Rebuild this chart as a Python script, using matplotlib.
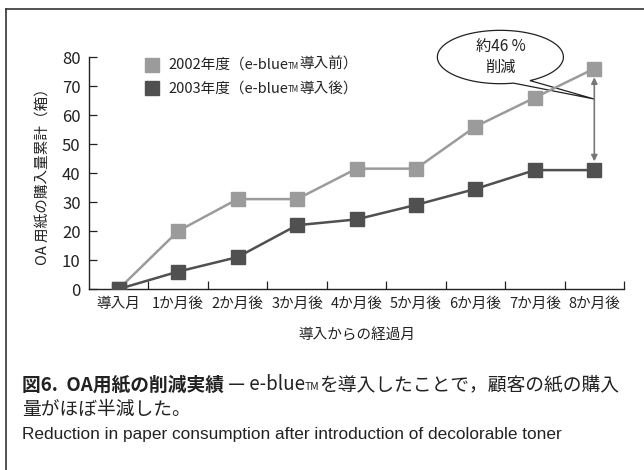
import numpy as np
import matplotlib
matplotlib.use("Agg")
import matplotlib.pyplot as plt
from matplotlib.patches import Polygon
from matplotlib.lines import Line2D
from matplotlib.offsetbox import TextArea, HPacker, AnnotationBbox

plt.rcParams['font.family'] = ['Noto Sans CJK JP', 'DejaVu Sans']

months = ["導入月", "1か月後", "2か月後", "3か月後", "4か月後",
          "5か月後", "6か月後", "7か月後", "8か月後"]
boxes_2002 = [0, 20, 31, 31, 41.5, 41.5, 56, 66, 76]
boxes_2003 = [0, 6, 11, 22, 24, 29, 34.5, 41, 41]
yticks = [0, 10, 20, 30, 40, 50, 60, 70, 80]

LIGHT = "#9b9b9b"
DARK = "#505050"
INK = "#222222"
JP = ['Noto Sans CJK JP', 'DejaVu Sans']

fig = plt.figure(figsize=(6.44, 4.70), dpi=100)
ax = fig.add_axes([0.1382, 0.3851, 0.8308, 0.4936])

x = np.arange(len(months))
ax.plot(x, boxes_2002, color=LIGHT, lw=1.8, marker="s", ms=10,
        mec=LIGHT, mfc=LIGHT, zorder=3)
ax.plot(x, boxes_2003, color=DARK, lw=1.8, marker="s", ms=10,
        mec=DARK, mfc=DARK, zorder=4)

ax.set_xlim(-0.5, len(months) - 0.5)
ax.set_ylim(0, 80)
ax.set_yticks(yticks)
ax.set_xticks(x)
ax.set_xticklabels(months, fontsize=10.5, color=INK)
ax.set_xticks(np.arange(len(months)) + 0.5, minor=True)
ax.tick_params(axis="x", which="major", length=0, pad=6)
ax.tick_params(axis="x", which="minor", direction="in", length=6, width=0.9, color=INK)
ax.tick_params(axis="y", direction="in", length=6, width=0.9, color=INK,
               labelsize=12, labelcolor=INK, pad=6)
for side in ("top", "right"):
    ax.spines[side].set_visible(False)
for side in ("left", "bottom"):
    ax.spines[side].set_linewidth(1.0)
    ax.spines[side].set_color(INK)

ax.set_xlabel("導入からの経過月", fontsize=10.5, color=INK, labelpad=12)
ax.set_ylabel("OA 用紙の購入量累計（箱）", fontsize=10.5, color=INK, labelpad=9)


def label_box(main, tail, size, weight="normal"):
    parts = [TextArea(main, textprops=dict(fontsize=size, color=INK, family=JP, weight=weight)),
             TextArea("TM", textprops=dict(fontsize=size * 0.55, color=INK, family=JP)),
             TextArea(tail, textprops=dict(fontsize=size, color=INK, family=JP))]
    return HPacker(children=parts, align="baseline", pad=0, sep=0)


# legend: square swatches with text rows
for yy, col, yr, suffix in [(0.966, LIGHT, "2002年度（e-blue", "導入前）"),
                            (0.866, DARK, "2003年度（e-blue", "導入後）")]:
    ax.plot([0.118], [yy], marker="s", ms=10, color=col,
            transform=ax.transAxes, clip_on=False)
    ab = AnnotationBbox(label_box(yr, suffix, 10.5), (0.148, yy),
                        xycoords=ax.transAxes, box_alignment=(0, 0.5),
                        frameon=False, pad=0)
    ax.add_artist(ab)

# double arrow between the two final values
last = len(months) - 1
ax.annotate("", xy=(last, boxes_2003[-1] + 3), xytext=(last, boxes_2002[-1] - 3),
            arrowprops=dict(arrowstyle="<|-|>", color="#777777", lw=1.2,
                            mutation_scale=9, shrinkA=0, shrinkB=0), zorder=5)

# speech bubble
cx, cy, a, b = 6.42, 80.0, 1.06, 9.2
t1, t2 = np.deg2rad(-62), np.deg2rad(-78)
tip = (last, 65.5)
ts = np.linspace(t1, t2 + 2 * np.pi, 200)
pts = np.column_stack([cx + a * np.cos(ts), cy + b * np.sin(ts)])
pts = np.vstack([pts, tip])
bubble = Polygon(pts, closed=True, facecolor="white", edgecolor=INK,
                 lw=0.9, clip_on=False, zorder=2)
ax.add_patch(bubble)
reduction = round((1 - boxes_2003[-1] / boxes_2002[-1]) * 100)
ax.text(cx, cy + 3.5, f"約{reduction} %", ha="center", va="center",
        fontsize=11, color=INK, clip_on=False)
ax.text(cx, cy - 3.5, "削減", ha="center", va="center",
        fontsize=11, color=INK, clip_on=False)

# outer frame (top and left rules)
fig.add_artist(Line2D([6 / 644, 1], [1 - 9 / 470] * 2, color="#333333", lw=1.2))
fig.add_artist(Line2D([6 / 644] * 2, [0, 1 - 9 / 470], color="#333333", lw=1.2))

# caption
cap1 = HPacker(children=[
    TextArea("図6.  OA用紙の削減実績", textprops=dict(fontsize=13.5, weight="bold", color=INK, family=JP)),
    TextArea(" — e-blue", textprops=dict(fontsize=13.5, color=INK, family=JP)),
    TextArea("TM", textprops=dict(fontsize=7.5, color=INK, family=JP)),
    TextArea("を導入したことで，顧客の紙の購入", textprops=dict(fontsize=13.5, color=INK, family=JP)),
], align="baseline", pad=0, sep=0)
fig.add_artist(AnnotationBbox(cap1, (22 / 644, 1 - 385 / 470), xycoords="figure fraction",
                              box_alignment=(0, 0.5), frameon=False, pad=0))
fig.text(22 / 644, 1 - 409 / 470, "量がほぼ半減した。", fontsize=13.5, color=INK, va="center")
fig.text(22 / 644, 1 - 435 / 470,
         "Reduction in paper consumption after introduction of decolorable toner",
         fontsize=12.4, color=INK, va="center", family=["Liberation Sans", "DejaVu Sans"])

fig.savefig("out.png", dpi=100)
